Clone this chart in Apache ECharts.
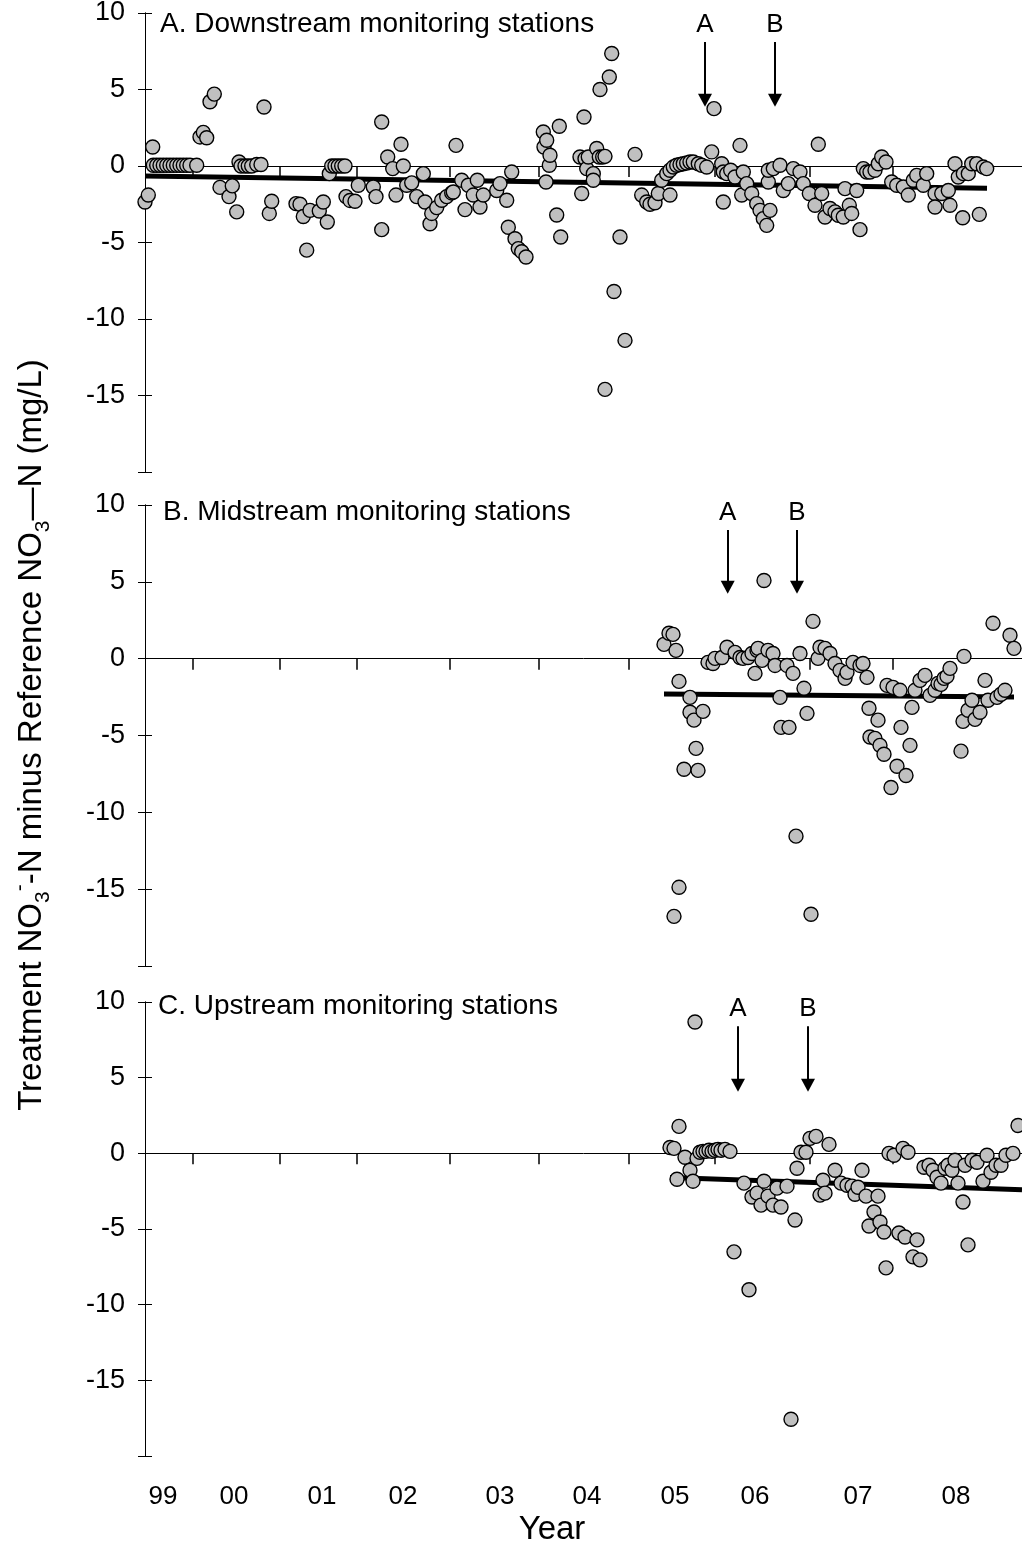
<!DOCTYPE html>
<html>
<head>
<meta charset="utf-8">
<script src="https://cdn.jsdelivr.net/npm/echarts@6/dist/echarts.min.js"></script>
<style>html,body{margin:0;padding:0;background:#fff;}#c{width:1022px;height:1547px;}</style>
</head>
<body>
<div id="c"></div>
<script>
// x is the position along the sampling sequence (axis units), y is the NO3-N difference (mg/L)
const yearLabels = ['99','00','01','02','03','04','05','06','07','08'];
const yearLabelPos = [18,89,177,258,355,442,530,610,713,811];
const yearBoundaries = [47.7,134.5,211.6,305,394,484,570,664.5,748];
const yTicks = [10,5,0,-5,-10,-15];
const panelTitles = ['A. Downstream monitoring stations','B. Midstream monitoring stations','C. Upstream monitoring stations'];

const downstream = [[0,-2.35],[3.3,-1.9],[7.7,1.24],[8.3,0.05],[11.7,0.05],[15,0.05],[18.3,0.05],[21.7,0.05],[25,0.05],[28.3,0.05],[31.7,0.05],[35,0.05],[38.3,0.05],[41.7,0.05],[45,0.05],[51.7,0.05],
[55,1.9],[58.3,2.2],[61.7,1.85],[65,4.2],[69.3,4.7],[75,-1.4],[84,-2.0],[87.3,-1.3],[91.7,-3.0],[94,0.26],[96,0],[100,0],[103.3,0],[106.7,0],[111.7,0.1],[116,0.1],[119,3.86],[124.3,-3.1],[126.7,-2.3],
[151,-2.46],[155,-2.5],[158.3,-3.3],[161.7,-5.5],[165,-2.9],[174.3,-2.94],[178.3,-2.35],[182.3,-3.66],[184.3,-0.5],[186.7,0],[190,0],[193.3,0],[196.7,0],[200,0],[201,-2.0],[205,-2.25],[210,-2.3],[213.3,-1.26],
[228.3,-1.37],[231,-2.0],[236.7,2.88],[236.7,-4.16],[242.7,0.59],[247.7,-0.17],[251,-1.9],[256,1.42],[258.3,0],[261.7,-1.26],[266.7,-1.1],[271.7,-2.0],[278.3,-0.5],[280,-2.35],[285,-3.77],[286.7,-3.1],[291.7,-2.72],[296.7,-2.24],[301.7,-2.0],[306.7,-1.76],[308.3,-1.7],[311,1.35],
[316.7,-0.93],[320,-2.85],[323.3,-1.26],[328.3,-1.9],[332.3,-0.93],[335,-2.68],[338.3,-1.9],[351.7,-1.6],[355,-1.15],[361.7,-2.24],[363.3,-4.0],[366.7,-0.39],[370,-4.75],[373.3,-5.4],[376.7,-5.6],[381,-5.95],
[398.3,2.22],[399,1.24],[401,-1.05],[401.7,1.68],[404.3,0.05],[405,0.7],[411.7,-3.2],[414.3,2.6],[415.7,-4.64],
[435,0.59],[436.7,-1.8],[439,3.2],[440,0.48],[441.7,-0.17],[443.3,0.59],[448.3,-0.5],[448.3,-0.93],[451.7,1.14],[454.3,0.59],[455,5.0],[457.7,0.59],[460,0.63],[460,-14.6],[464.3,5.82],[466.7,7.35],[469,-8.2],[475,-4.64],[480,-11.4],[490,0.76],
[496.7,-1.9],[501.7,-2.35],[505,-2.5],[510,-2.4],[513.3,-1.8],[516.7,-0.93],[521.7,-0.5],[525,-1.9],[525,-0.28],[528.3,-0.07],[531.7,0.05],[535,0.1],[538.3,0.15],[541.7,0.2],[545,0.26],[548.3,0.26],[553.3,0.15],[556.7,0.05],[561.7,-0.07],[566.7,0.92],[569,3.75],
[576.7,0.15],[578.3,-0.39],[578.3,-2.35],[581.7,-0.5],[585.7,-0.28],[590,-0.72],[595,1.35],[596.7,-1.9],[598.3,-0.39],[601.7,-1.15],[606.7,-1.8],[611.7,-2.46],[615,-2.9],[618.3,-3.44],[621.7,-3.88],[623.3,-1.05],[623.3,-0.28],[625,-2.9],[628.3,-0.17],[635,0.05],[638.3,-1.6],[643.3,-1.15],[648.3,-0.17],[655,-0.39],[658.3,-1.15],[664.3,-1.8],[670,-2.57],[673.3,1.42],[676.7,-1.8],[680,-3.33],[685,-2.78],[690,-3.0],[693.3,-3.22],[698.3,-3.33],[700,-1.48],[704.3,-2.57],[706.7,-3.1],[711.7,-1.6],[715,-4.16],
[718.3,-0.17],[721.7,-0.39],[725,-0.39],[730,-0.28],[733.3,0.15],[736.7,0.59],[741,0.26],[746.7,-1.05],[751.7,-1.26],[758.3,-1.37],[763.3,-1.9],[768.3,-0.93],[771.7,-0.61],[778.3,-1.26],[781.7,-0.5],[790,-1.8],[790,-2.68],[796.7,-1.8],[803.3,-1.6],[805,-2.57],[810,0.15],[813.3,-0.72],[817.7,-3.38],[818.3,-0.5],[823.3,-0.5],[826.7,0.15],[831.7,0.15],[834.3,-3.16],[838.3,-0.07],[841.7,-0.17]];

const midstream = [[519,0.93],[524,1.65],[528,1.58],[531,0.54],[534,-1.48],[539,-7.2],[545,-2.52],[545,-3.49],[549,-4.0],[551,-5.84],[553,-7.27],[558,-3.43],[529,-16.77],[534,-14.88],
[563,-0.24],[568,-0.31],[570,0.02],[577,0.08],[582,0.74],[590,0.41],[595,0.08],[598,0.02],[603,0.08],[607,0.34],[610,-0.96],[612,0.54],[613,0.67],[617,-0.11],[619,5.09],[623,0.54],[628,0.34],[630,-0.44],[635,-2.52],[636,-4.47],[642,-0.44],[644,-4.47],[648,-0.96],[651,-11.55],[655,0.34],[659,-1.93],[662,-3.56],[666,-16.63],[668,2.43],
[673,0.02],[675,0.74],[680,0.67],[685,0.34],[690,-0.31],[695,-0.76],[700,-1.28],[702,-0.89],[708,-0.24],[715,-0.44],[718,-0.31],[722,-1.22],[724,-3.23],[725,-5.1],[730,-5.19],[733,-4.0],[735,-5.64],[739,-6.22],[742,-1.74],[746,-8.38],[748,-1.87],[752,-7.0],[755,-2.06],[756,-4.47],[761,-7.6],[765,-5.64],[767,-3.17],[770,-2.06],[775,-1.41],[780,-1.09],[785,-2.39],[790,-2.06],[793,-1.61],[796,-1.67],[799,-1.28],[802,-1.15],[805,-0.63],
[816,-6.02],[818,-4.08],[819,0.15],[823,-3.36],[827,-2.71],[830,-3.95],[835,-3.49],[840,-1.41],[843,-2.71],[848,2.3],[852,-2.52],[856,-2.32],[860,-2.06],[865,1.52],[869,0.67]];

const upstream = [[525,0.39],[529,0.33],[532,-1.71],[534,1.78],[540,-0.26],[545,-1.12],[548,-1.84],[550,8.68],[552,-0.33],[555,0.07],[558,0.13],[561,0.13],[564,0.2],[567,0.13],[570,0.2],[573,0.26],[576,0.2],[580,0.26],[585,0.13],[589,-6.51],
[599,-1.97],[604,-9.01],[607,-2.89],[612,-2.63],[616,-3.42],[619,-1.84],[623,-2.83],[628,-3.42],[632,-2.3],[636,-3.55],[642,-2.17],[646,-17.57],[650,-4.41],[652,-0.99],[656,0.07],[661,0.07],[665,0.99],[671,1.12],[675,-2.76],[678,-1.78],[680,-2.63],[684,0.59],
[690,-1.12],[696,-1.97],[702,-2.11],[707,-2.17],[710,-2.7],[713,-2.24],[717,-1.12],[721,-2.83],[724,-4.8],[729,-3.88],[733,-2.83],[735,-4.54],[739,-5.2],[741,-7.57],[744,0],[749,-0.13],[754,-5.26],[758,0.33],[760,-5.53],[763,0.07],[768,-6.84],[772,-5.72],[775,-7.04],
[779,-0.92],[784,-0.79],[788,-1.12],[792,-1.58],[796,-1.97],[800,-0.99],[803,-0.79],[807,-1.12],[810,-0.46],[813,-1.97],[818,-3.22],[820,-0.79],[823,-6.05],[827,-0.46],[832,-0.59],[838,-1.84],[842,-0.13],[846,-1.25],[851,-0.79],[856,-0.79],[861,-0.13],[868,0],[873,1.84]];

const trendDown = [[0,-0.65],[842,-1.46]];
const trendMid = [[519,-2.3],[869,-2.5]];
const trendUp = [[525,-1.6],[877,-2.4]];

// arrow annotations: [label, x, arrow top, arrow tip]
const arrowsDown = [['A',560,8.1,4.3],['B',630,8.1,4.3]];
const arrowsMid = [['A',582.7,8.37,4.64],['B',652,8.37,4.64]];
const arrowsUp = [['A',593,8.4,4.5],['B',663,8.4,4.5]];

const FONT = "'Liberation Sans', Arial, sans-serif";
const X_MAX = 877;
const grids = [
  {left:145, width:877, top:13, height:459, outerBoundsMode:'none', containLabel:false},
  {left:145, width:877, top:505, height:461, outerBoundsMode:'none', containLabel:false},
  {left:145, width:877, top:1002, height:454, outerBoundsMode:'none', containLabel:false}
];

const xAxes = [];
const yAxes = [];
for (let i = 0; i < 3; i++) {
  xAxes.push({
    type:'value', gridIndex:i, min:0, max:X_MAX, position:'bottom',
    axisLine:{show:true, onZero:true, lineStyle:{color:'#000', width:1}},
    axisTick:{show:true, customValues:yearBoundaries, length:11, inside:false, lineStyle:{color:'#000', width:1.5}},
    axisLabel:{show:false}, splitLine:{show:false}
  });
  yAxes.push({
    type:'value', gridIndex:i, min:-20, max:10, interval:5, position:'left',
    axisLine:{show:true, onZero:false, lineStyle:{color:'#000', width:1}},
    axisTick:{show:true, length:7, inside:false, lineStyle:{color:'#000', width:1}},
    axisLabel:{show:true, margin:20, fontSize:27, color:'#000', fontFamily:FONT,
      formatter: v => (yTicks.indexOf(v) >= 0 ? String(v) : '')},
    splitLine:{show:false}
  });
  yAxes.push({
    type:'value', gridIndex:i, min:-20, max:10, interval:5, position:'left', offset:0,
    axisLine:{show:true, onZero:false, lineStyle:{color:'#000', width:1}},
    axisTick:{show:true, length:7, inside:true, lineStyle:{color:'#000', width:1}},
    axisLabel:{show:false}, splitLine:{show:false}
  });
}
// bottom year labels for the shared time axis
xAxes.push({
  type:'value', gridIndex:2, min:0, max:X_MAX, position:'bottom',
  axisLine:{show:false, onZero:false}, axisTick:{show:false}, splitLine:{show:false},
  axisLabel:{show:true, customValues:yearLabelPos, margin:28, fontSize:26, color:'#000', fontFamily:FONT,
    formatter: v => yearLabels[yearLabelPos.indexOf(v)] || ''}
});

function scatter(data, i) {
  return {type:'scatter', xAxisIndex:i, yAxisIndex:i*2, data:data, symbol:'circle', symbolSize:14, z:5,
    itemStyle:{color:'#c0c0c0', borderColor:'#000', borderWidth:1.4, opacity:1}};
}
function trend(data, arrows, i) {
  return {type:'line', xAxisIndex:i, yAxisIndex:i*2, data:data, showSymbol:false, symbol:'none', z:3,
    lineStyle:{color:'#000', width:5},
    markLine:{silent:true, symbol:['none','triangle'], symbolSize:[14,13], animation:false,
      lineStyle:{color:'#000', width:2, type:'solid'},
      label:{show:true, position:'start', distance:4, formatter: p => p.name, fontSize:26, color:'#000', fontFamily:FONT},
      data: arrows.map(a => [{coord:[a[1], a[2]], name:a[0]}, {coord:[a[1], a[3]]}])}
  };
}

const yTitle = {
  type:'text', x:32, y:735, rotation:Math.PI/2,
  style:{
    text:'Treatment NO{sub|3}{sup|-}-N minus Reference NO{sub|3}{n|—N (mg/L)}',
    font:'33px ' + FONT, fill:'#000', align:'center', verticalAlign:'middle', lineHeight:44,
    rich:{
      sub:{fontSize:21, lineHeight:17, verticalAlign:'bottom', fontFamily:FONT},
      sup:{fontSize:21, lineHeight:17, verticalAlign:'top', fontFamily:FONT},
      n:{fontSize:33, fontFamily:FONT}
    }
  }
};

const option = {
  animation:false,
  backgroundColor:'#fff',
  grid: grids,
  xAxis: xAxes,
  yAxis: yAxes,
  graphic: [
    {type:'text', x:160, y:10, style:{text:panelTitles[0], font:'28px ' + FONT, fill:'#000'}},
    {type:'text', x:163, y:498, style:{text:panelTitles[1], font:'28px ' + FONT, fill:'#000'}},
    {type:'text', x:158, y:992, style:{text:panelTitles[2], font:'28px ' + FONT, fill:'#000'}},
    {type:'text', x:552, y:1530, style:{text:'Year', font:'33px ' + FONT, fill:'#000', align:'center', verticalAlign:'middle'}},
    yTitle
  ],
  series: [
    trend(trendDown, arrowsDown, 0), scatter(downstream, 0),
    trend(trendMid, arrowsMid, 1), scatter(midstream, 1),
    trend(trendUp, arrowsUp, 2), scatter(upstream, 2)
  ]
};
const chart = echarts.init(document.getElementById('c'), null, {renderer:'canvas'});
chart.setOption(option);
</script>
</body>
</html>
